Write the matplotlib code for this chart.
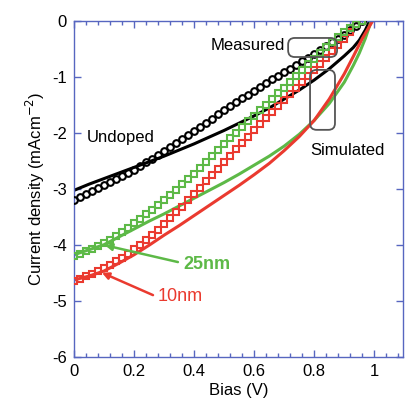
import matplotlib
matplotlib.use("Agg")
import matplotlib.pyplot as plt
from matplotlib.patches import FancyBboxPatch
from matplotlib.ticker import MultipleLocator

plt.rcParams["font.family"] = ["Liberation Sans", "DejaVu Sans"]

# Measured J-V (markers), bias step 0.02 V
bias_meas = [0.00, 0.02, 0.04, 0.06, 0.08, 0.10, 0.12, 0.14, 0.16, 0.18,
             0.20, 0.22, 0.24, 0.26, 0.28, 0.30, 0.32, 0.34, 0.36, 0.38,
             0.40, 0.42, 0.44, 0.46, 0.48, 0.50, 0.52, 0.54, 0.56, 0.58,
             0.60, 0.62, 0.64, 0.66, 0.68, 0.70, 0.72, 0.74, 0.76, 0.78,
             0.80, 0.82, 0.84, 0.86, 0.88, 0.90, 0.92, 0.94, 0.96]

undoped_meas = [-3.20, -3.14, -3.09, -3.04, -2.98, -2.93, -2.88, -2.83, -2.77, -2.72,
                -2.66, -2.60, -2.53, -2.47, -2.40, -2.33, -2.26, -2.19, -2.12, -2.04,
                -1.97, -1.90, -1.82, -1.75, -1.67, -1.60, -1.53, -1.46, -1.39, -1.32,
                -1.25, -1.18, -1.12, -1.05, -0.99, -0.92, -0.86, -0.79, -0.73, -0.66,
                -0.60, -0.53, -0.46, -0.39, -0.32, -0.25, -0.17, -0.09, 0.00]

nm25_meas = [-4.20, -4.16, -4.12, -4.07, -4.02, -3.97, -3.91, -3.84, -3.77, -3.70,
             -3.62, -3.54, -3.46, -3.38, -3.29, -3.20, -3.11, -3.02, -2.92, -2.83,
             -2.73, -2.63, -2.52, -2.42, -2.31, -2.20, -2.10, -2.00, -1.90, -1.80,
             -1.70, -1.60, -1.50, -1.40, -1.30, -1.20, -1.10, -0.99, -0.89, -0.78,
             -0.68, -0.58, -0.48, -0.38, -0.29, -0.21, -0.13, -0.06, 0.00]

nm10_meas = [-4.65, -4.61, -4.56, -4.52, -4.47, -4.42, -4.36, -4.30, -4.23, -4.16,
             -4.08, -4.00, -3.91, -3.82, -3.73, -3.63, -3.53, -3.42, -3.32, -3.21,
             -3.10, -2.98, -2.87, -2.75, -2.64, -2.52, -2.41, -2.30, -2.19, -2.07,
             -1.96, -1.85, -1.74, -1.64, -1.53, -1.42, -1.31, -1.20, -1.10, -0.99,
             -0.88, -0.77, -0.66, -0.55, -0.43, -0.32, -0.20, -0.06]

# Simulated J-V (lines)
bias_sim_undoped = [0.00, 0.05, 0.10, 0.15, 0.20, 0.25, 0.30, 0.35, 0.40, 0.45, 0.50,
                    0.55, 0.60, 0.65, 0.70, 0.75, 0.80, 0.85, 0.90, 0.93, 0.95, 0.97, 0.985]
undoped_sim = [-3.03, -2.92, -2.82, -2.72, -2.62, -2.52, -2.42, -2.31, -2.20, -2.08, -1.96,
               -1.83, -1.70, -1.56, -1.40, -1.24, -1.06, -0.86, -0.63, -0.48, -0.35, -0.17, 0.00]

bias_sim_25 = [0.00, 0.05, 0.10, 0.15, 0.20, 0.25, 0.30, 0.35, 0.40, 0.45, 0.50,
               0.55, 0.60, 0.65, 0.70, 0.75, 0.80, 0.85, 0.90, 0.93, 0.95, 0.97, 0.99]
nm25_sim = [-4.18, -4.09, -4.00, -3.86, -3.72, -3.58, -3.45, -3.31, -3.17, -3.03, -2.89,
            -2.74, -2.58, -2.42, -2.24, -2.03, -1.78, -1.48, -1.10, -0.80, -0.58, -0.32, 0.00]

bias_sim_10 = [0.00, 0.05, 0.10, 0.15, 0.20, 0.25, 0.30, 0.35, 0.40, 0.45, 0.50,
               0.55, 0.60, 0.65, 0.70, 0.75, 0.80, 0.85, 0.90, 0.93, 0.96, 0.995]
nm10_sim = [-4.63, -4.56, -4.47, -4.33, -4.18, -4.01, -3.83, -3.66, -3.48, -3.30, -3.12,
            -2.94, -2.75, -2.55, -2.32, -2.07, -1.78, -1.40, -0.95, -0.64, -0.32, 0.00]

BLACK = "#000000"
GREEN = "#5db947"
RED = "#ea3a2f"
AXIS_BLUE = "#5766c0"

fig = plt.figure(figsize=(4.05, 4.04), dpi=100)
ax = fig.add_axes([0.1827, 0.117, 0.812, 0.832])

# simulated curves
ax.plot(bias_sim_undoped, undoped_sim, color=BLACK, lw=2.2, zorder=2)
ax.plot(bias_sim_25, nm25_sim, color=GREEN, lw=2.2, zorder=2)
ax.plot(bias_sim_10, nm10_sim, color=RED, lw=2.2, zorder=2)

# measured curves
mk = dict(ls="none", mfc="none", ms=4.8, mew=1.5, zorder=3)
ax.plot(bias_meas, undoped_meas, marker="o", mec=BLACK, **mk)
ax.plot(bias_meas[:len(nm10_meas)], nm10_meas, marker="s", mec=RED, **mk)
ax.plot(bias_meas, nm25_meas, marker="s", mec=GREEN, **mk)

ax.set_xlim(0, 1.095)
ax.set_ylim(-6, 0)
ax.xaxis.set_minor_locator(MultipleLocator(0.04))
ax.set_xticks([0, 0.2, 0.4, 0.6, 0.8, 1.0])
ax.set_xticklabels(["0", "0.2", "0.4", "0.6", "0.8", "1"])
ax.set_yticks([0, -1, -2, -3, -4, -5, -6])
ax.set_yticklabels(["0", "-1", "-2", "-3", "-4", "-5", "-6"])

for sp in ax.spines.values():
    sp.set_color(AXIS_BLUE)
    sp.set_linewidth(1.0)
ax.tick_params(which="both", direction="in", top=True, right=True,
               color=AXIS_BLUE, labelsize=12, labelcolor="black", width=1.0)
ax.tick_params(which="major", length=5, pad=5)
ax.tick_params(which="minor", length=3)

ax.set_xlabel("Bias (V)", fontsize=12, labelpad=3)
ax.set_ylabel("Current density (mAcm$^{-2}$)", fontsize=12, labelpad=4)

# labels
ax.text(0.579, -0.45, "Measured", fontsize=12, ha="center", va="center")
ax.text(0.911, -2.32, "Simulated", fontsize=12, ha="center", va="center")
ax.text(0.157, -2.09, "Undoped", fontsize=12, ha="center", va="center")
ax.text(0.443, -4.36, "25nm", fontsize=13, fontweight="bold", color=GREEN,
        ha="center", va="center")
ax.text(0.353, -4.93, "10nm", fontsize=13, color=RED, ha="center", va="center")

ax.annotate("", xy=(0.103, -4.01), xytext=(0.346, -4.31),
            arrowprops=dict(arrowstyle="-|>", color=GREEN, lw=1.8,
                            mutation_scale=10, shrinkA=0, shrinkB=0))
ax.annotate("", xy=(0.093, -4.50), xytext=(0.263, -4.90),
            arrowprops=dict(arrowstyle="-|>", color=RED, lw=1.8,
                            mutation_scale=10, shrinkA=0, shrinkB=0))

# rounded brackets around the curve groups
aspect = (1 / 56.0) / (1 / 300.3)
for (x0, y0, w, h) in [(0.713, -0.65, 0.163, 0.34), (0.786, -1.95, 0.083, 1.07)]:
    box = FancyBboxPatch((x0, y0), w, h,
                         boxstyle="round,pad=0,rounding_size=0.022",
                         mutation_aspect=aspect, fill=False,
                         ec="#555555", lw=1.3, zorder=4)
    ax.add_patch(box)

fig.savefig("out.png", dpi=100)
